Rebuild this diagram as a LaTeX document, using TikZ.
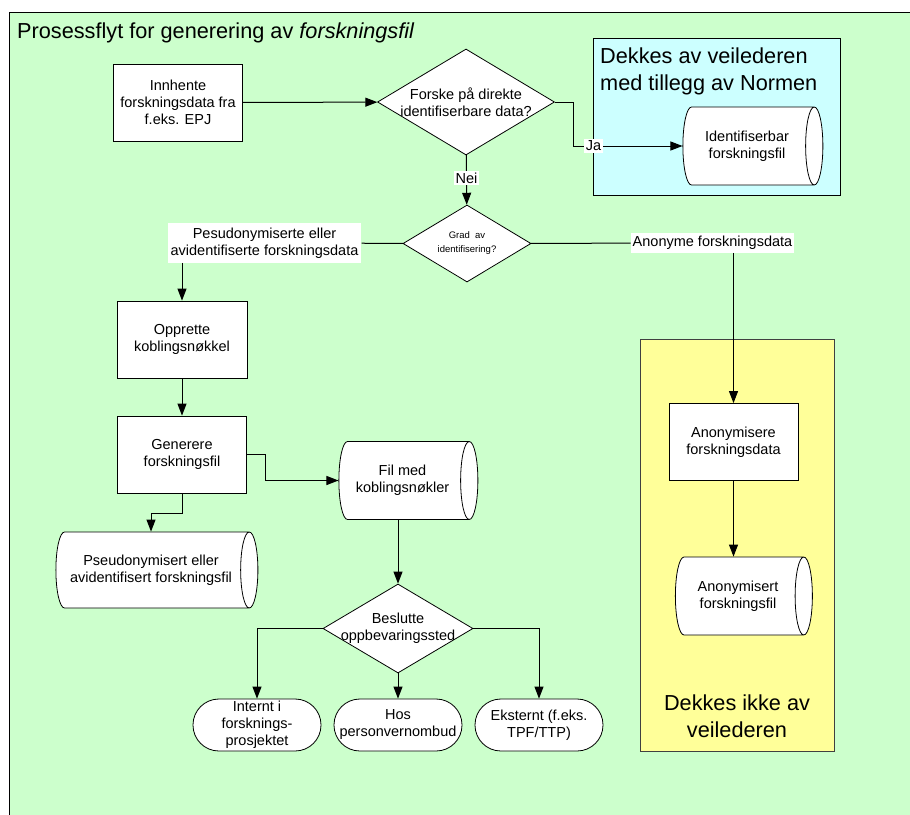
\documentclass[tikz,border=0pt]{standalone}
\usepackage{fontspec}
\setmainfont{Liberation Sans}
\usetikzlibrary{shapes.geometric,arrows.meta}

\definecolor{bggreen}{HTML}{CCFFCC}
\definecolor{boxcyan}{HTML}{CCFFFF}
\definecolor{boxyellow}{HTML}{FFFF99}
\newcommand{\bodyfont}{\fontsize{14.5}{17}\selectfont}
\newcommand{\bigfont}{\fontsize{21.7}{26.5}\selectfont}
\newcommand{\smallfont}{\fontsize{9.5}{14}\selectfont}

\begin{document}
\begin{tikzpicture}[x=1pt,y=-1pt,
    process/.style={draw,rectangle,fill=white,line width=0.8pt,inner sep=0pt,minimum width=129pt,minimum height=77pt,align=center,font=\bodyfont},
    store/.style={draw,cylinder,fill=white,line width=0.8pt,aspect=0.5,inner sep=2pt,minimum width=78pt,minimum height=139pt,align=center,font=\bodyfont},
    decision/.style={draw,diamond,fill=white,line width=0.8pt,inner sep=0pt},
    dtext/.style={align=center,font=\bodyfont},
    terminal/.style={draw,rectangle,rounded corners=25.9pt,fill=white,line width=0.8pt,inner sep=0pt,minimum width=128pt,minimum height=52pt,align=center,font=\bodyfont},
    flowlabel/.style={fill=white,inner xsep=2pt,inner ysep=3pt,align=center,font=\bodyfont},
    flow/.style={draw=black,line width=1pt,-{Triangle[length=12pt,width=9pt]}},
    link/.style={draw=black,line width=1pt}]

      \useasboundingbox (0,0) rectangle (910,814);
      \fill[white] (0,0) rectangle (910,814);
      \draw[fill=bggreen,line width=1pt] (9,12) rectangle (914,818);
      \node[anchor=base west,inner sep=0pt,font=\bigfont] (title) at (17,38.3) {Prosessflyt for generering av \textit{forskningsfil}};

      % omraader
      \draw[fill=boxcyan,line width=1pt] (593,38) rectangle (840,195);
      \node[anchor=north west,inner sep=0pt,align=left,font=\bigfont] (medmerknad) at (600,48) {Dekkes av veilederen\\med tillegg av Normen};
      \draw[draw=black!75,fill=boxyellow,line width=1pt] (640,339) rectangle (834,751);
      \node[anchor=north,inner sep=0pt,align=center,font=\bigfont] (utenmerknad) at (737,695) {Dekkes ikke av\\veilederen};

      \node[process] (innhente) at (178,102.5) {Innhente\\forskningsdata fra\\f.eks. EPJ};
      \node[decision,minimum width=177pt,minimum height=106pt] (forske) at (466,102) {};
      \node[dtext] (forsketxt) at (forske) {Forske på direkte\\identifiserbare data?};
      \node[store,minimum height=140pt] (idfil) at (747,146) {Identifiserbar\\forskningsfil};

      \node[decision,minimum width=128pt,minimum height=77pt] (grad) at (467,243.5) {};
      \node[dtext,font=\smallfont] (gradtxt) at (grad) {Grad\ \ av\\identifisering?};
      \node[flowlabel,inner xsep=3pt,inner ysep=4.5pt] (pseudolbl) at (264.5,243) {Pesudonymiserte eller\\avidentifiserte forskningsdata};
      \node[flowlabel] (anonymlbl) at (712.5,243) {Anonyme forskningsdata};

      \node[process,minimum width=130pt] (opprette) at (182,339.5) {Opprette\\koblingsnøkkel};
      \node[process] (generere) at (182,454.5) {Generere\\forskningsfil};
      \node[store] (nokkelfil) at (402.5,480.5) {Fil med\\koblingsnøkler};
      \node[store,minimum width=76pt,minimum height=202pt] (pseudofil) at (151,570) {Pseudonymisert eller\\avidentifisert forskningsfil};

      \node[decision,minimum width=150pt,minimum height=89pt] (beslutte) at (398,628.5) {};
      \node[dtext] (beslutttxt) at (beslutte) {Beslutte\\oppbevaringssted};
      \node[terminal] (intern) at (257,725) {Internt i\\forsknings-\\prosjektet};
      \node[terminal] (hos) at (398,725) {Hos\\personvernombud};
      \node[terminal] (ekstern) at (539,725) {Eksternt (f.eks.\\TPF/TTP)};

      \node[process] (anonymisere) at (733.5,442) {Anonymisere\\forskningsdata};
      \node[store,minimum height=137pt] (anonymfil) at (738,596) {Anonymisert\\forskningsfil};

      \draw[flow] (innhente) -- (forske);
      \draw[flow] (forske.east) -- ++(19,0) |- (idfil.west) node[flowlabel,pos=0.59,inner ysep=2pt] (ja) {Ja};
      \draw[flow] (forske) -- (grad) node[flowlabel,pos=0.46,inner ysep=2pt] (nei) {Nei};

      \draw[link] (grad) -- (pseudolbl);
      \draw[link] (grad) -- (anonymlbl);
      \draw[flow] (pseudolbl.south -| opprette.north) -- (opprette.north);
      \draw[flow] (anonymlbl.south -| anonymisere.north) -- (anonymisere.north);
      \draw[flow] (anonymisere) -- (anonymisere |- anonymfil.north);

      \draw[flow] (opprette) -- (generere);
      \draw[flow] (generere.east) -- ++(19,0) |- (nokkelfil.west);
      \draw[flow] (generere.south) -- ++(0,20) -| (pseudofil.north);
      \draw[flow] (nokkelfil.south -| beslutte.north) -- (beslutte.north);

      \draw[flow] (beslutte.west) -| (intern.north);
      \draw[flow] (beslutte) -- (hos);
      \draw[flow] (beslutte.east) -| (ekstern.north);

\end{tikzpicture}
\end{document}
